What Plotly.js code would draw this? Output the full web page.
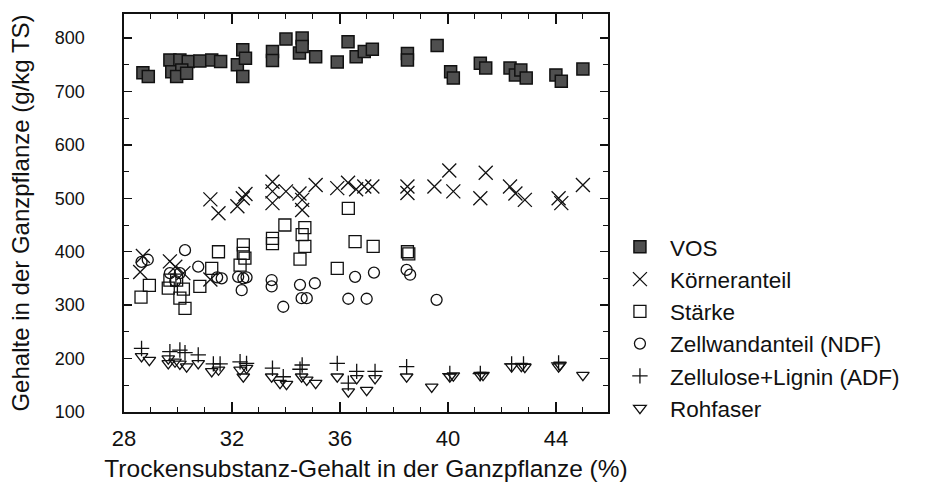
<!DOCTYPE html>
<html>
<head>
<meta charset="utf-8">
<script src="https://cdn.plot.ly/plotly-3.0.1.min.js"></script>
<style>html,body{margin:0;padding:0;background:#fff;}#chart{width:937px;height:490px;}</style>
</head>
<body>
<div id="chart"></div>
<script>
// Data
const vosX = [28.7, 28.9, 29.7, 30.07, 30.38, 29.77, 30.14, 29.95, 30.32, 30.81, 31.25, 31.58, 32.2, 32.4, 32.4, 32.5, 33.5, 33.5, 34.0, 34.5, 34.6, 34.6, 35.1, 35.9, 36.3, 36.6, 36.9, 37.2, 38.5, 38.5, 39.6, 40.1, 40.2, 41.2, 41.4, 42.3, 42.5, 42.7, 42.9, 44.0, 44.2, 45.0];
const vosY = [735, 728, 759, 759, 756, 737, 740, 728, 734, 757, 759, 756, 750, 778, 728, 762, 775, 758, 798, 772, 800, 784, 765, 755, 793, 765, 775, 779, 771, 759, 786, 737, 725, 753, 744, 744, 731, 740, 725, 731, 719, 742];

const koernerX = [28.7, 28.6, 29.7, 29.9, 30.2, 31.2, 31.2, 31.5, 32.2, 32.4, 32.5, 33.5, 33.5, 33.5, 34.0, 34.5, 34.6, 34.6, 35.1, 35.9, 36.3, 36.6, 36.9, 37.2, 38.5, 38.5, 39.5, 40.05, 40.2, 41.4, 41.2, 42.3, 42.5, 42.85, 44.1, 44.2, 45.0];
const koernerY = [392, 362, 382, 372, 360, 348, 498, 472, 485, 500, 508, 531, 513, 491, 513, 509, 497, 478, 525, 519, 529, 517, 522, 522, 522, 510, 522, 552, 513, 548, 500, 522, 509, 497, 500, 491, 525];

const staerkeX = [28.63, 28.94, 29.64, 29.7, 29.95, 30.07, 30.26, 30.2, 30.81, 31.25, 31.5, 32.3, 32.42, 32.42, 32.48, 33.5, 33.5, 33.96, 34.6, 34.7, 34.7, 34.52, 35.9, 36.31, 36.56, 37.23, 38.5, 38.55];
const staerkeY = [315, 337, 332, 347, 347, 313, 294, 330, 335, 369, 400, 375, 413, 397, 388, 425, 415, 450, 432, 445, 410, 386, 369, 481, 419, 410, 400, 396];

const ndfX = [28.65, 28.88, 30.26, 29.7, 30.07, 29.9, 30.75, 31.62, 31.45, 32.23, 32.42, 32.54, 32.36, 33.47, 33.47, 33.9, 34.52, 34.58, 34.77, 35.07, 36.56, 36.31, 36.99, 37.26, 38.47, 38.6, 39.58];
const ndfY = [381, 385, 403, 360, 360, 345, 372, 350, 352, 353, 350, 352, 328, 347, 335, 297, 338, 313, 313, 341, 353, 312, 312, 361, 366, 357, 310];

const adfX = [28.65, 29.7, 30.07, 30.26, 30.75, 31.31, 31.56, 32.3, 32.54, 33.5, 33.9, 34.52, 34.6, 35.9, 36.31, 36.62, 37.3, 38.47, 40.07, 41.2, 42.36, 42.8, 44.1];
const adfY = [219, 213, 216, 211, 207, 190, 190, 194, 191, 182, 166, 180, 188, 191, 154, 176, 176, 185, 172, 172, 190, 190, 192];

const rohX = [28.65, 28.94, 29.64, 29.64, 29.89, 30.07, 30.32, 30.75, 31.25, 31.5, 32.3, 32.42, 32.54, 33.47, 33.78, 34.02, 34.58, 34.77, 35.1, 35.9, 36.31, 36.62, 36.99, 37.3, 38.47, 39.4, 40.07, 40.2, 41.19, 41.3, 42.36, 42.72, 42.85, 44.1, 44.15, 45.0];
const rohY = [204, 197, 200, 191, 194, 190, 185, 191, 176, 179, 179, 166, 182, 166, 154, 152, 166, 160, 154, 166, 138, 163, 141, 163, 166, 147, 166, 168, 169, 169, 185, 186, 184, 185, 188, 169];

const seriesNames = ['VOS', 'Körneranteil', 'Stärke', 'Zellwandanteil (NDF)', 'Zellulose+Lignin (ADF)', 'Rohfaser'];
const xTickVals = [28, 32, 36, 40, 44];
const yTickVals = [100, 200, 300, 400, 500, 600, 700, 800];

const FONT = 'Liberation Sans, Arial, Helvetica, sans-serif';
const INK = '#111';

const traces = [
  {x: vosX, y: vosY, name: seriesNames[0], type: 'scatter', mode: 'markers',
   marker: {symbol: 'square', size: 12, color: '#4f4f4f', line: {color: INK, width: 1.5}}},
  {x: koernerX, y: koernerY, name: seriesNames[1], type: 'scatter', mode: 'markers',
   marker: {symbol: 'x-thin-open', size: 14, color: INK, line: {color: INK, width: 1.3}}},
  {x: staerkeX, y: staerkeY, name: seriesNames[2], type: 'scatter', mode: 'markers',
   marker: {symbol: 'square-open', size: 12, color: INK, line: {color: INK, width: 1.3}}},
  {x: ndfX, y: ndfY, name: seriesNames[3], type: 'scatter', mode: 'markers',
   marker: {symbol: 'circle-open', size: 11, color: INK, line: {color: INK, width: 1.3}}},
  {x: adfX, y: adfY, name: seriesNames[4], type: 'scatter', mode: 'markers',
   marker: {symbol: 'cross-thin-open', size: 11, color: INK, line: {color: INK, width: 1.3}}},
  {x: rohX, y: rohY, name: seriesNames[5], type: 'scatter', mode: 'markers',
   marker: {symbol: 'triangle-down-open', size: 11, color: INK, line: {color: INK, width: 1.3}}}
];

const layout = {
  width: 937, height: 490,
  margin: {l: 124, r: 329, t: 14, b: 78},
  paper_bgcolor: '#fff', plot_bgcolor: '#fff',
  font: {family: FONT, color: INK, size: 22},
  showlegend: true,
  legend: {x: 1.004, xanchor: 'left', y: 0.468, yanchor: 'top', itemwidth: 50,
           font: {family: FONT, size: 22.5, color: INK}, tracegroupgap: 0,
           bgcolor: 'rgba(0,0,0,0)'},
  xaxis: {
    range: [28, 45.93], tickvals: xTickVals, ticktext: xTickVals.map(String),
    ticks: 'inside', ticklen: 10, tickwidth: 1.3, tickcolor: INK,
    minor: {dtick: 1, tick0: 28, ticks: 'inside', ticklen: 5, tickcolor: INK, tickwidth: 1},
    showline: true, linecolor: INK, linewidth: 1.6, mirror: 'ticks',
    showgrid: false, zeroline: false,
    tickfont: {family: FONT, size: 22, color: INK}, ticklabelstandoff: 6,
    title: {text: 'Trockensubstanz-Gehalt in der Ganzpflanze (%)', font: {family: FONT, size: 24.5, color: INK}, standoff: 10}
  },
  yaxis: {
    range: [100, 845], tickvals: yTickVals, ticktext: yTickVals.map(String),
    ticks: 'inside', ticklen: 8, tickwidth: 1.3, tickcolor: INK,
    minor: {dtick: 50, tick0: 100, ticks: 'inside', ticklen: 5, tickcolor: INK, tickwidth: 1},
    showline: true, linecolor: INK, linewidth: 1.6, mirror: 'ticks',
    showgrid: false, zeroline: false,
    tickfont: {family: FONT, size: 18, color: INK}, ticklabelstandoff: 34,
    title: {text: 'Gehalte in der Ganzpflanze (g/kg TS)', font: {family: FONT, size: 24, color: INK}, standoff: 18}
  }
};

Plotly.newPlot('chart', traces, layout, {displayModeBar: false, staticPlot: true});
</script>
</body>
</html>
